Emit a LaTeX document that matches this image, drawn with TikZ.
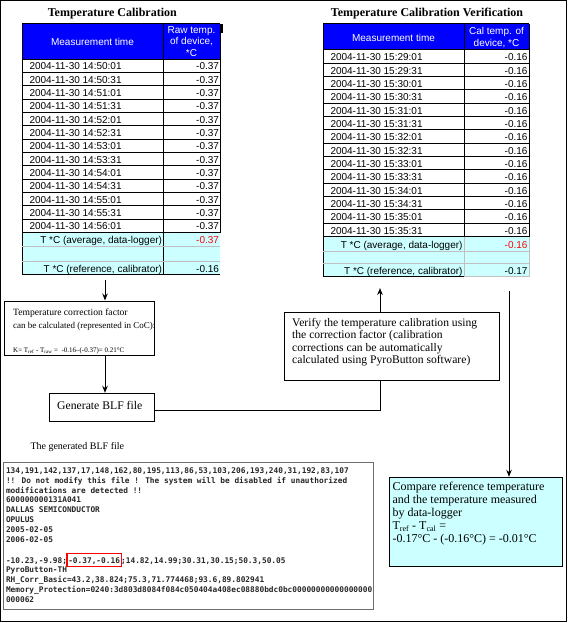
\documentclass[tikz,border=0pt]{standalone}
\usepackage{fontspec}
\setmainfont{Liberation Serif}
\newfontfamily\arialf{Liberation Sans}
\newfontfamily\monof{DejaVu Sans Mono}
\usetikzlibrary{arrows.meta}
\definecolor{hdrblue}{RGB}{0,0,255}
\definecolor{lcyan}{RGB}{204,255,255}
\definecolor{gline}{RGB}{192,192,192}
\definecolor{blfgray}{RGB}{110,110,110}
\definecolor{markred}{RGB}{255,0,0}
\begin{document}
\begin{tikzpicture}[x=1pt,y=-1pt,line width=1pt,
  tcell/.style={font=\arialf\fontsize{10}{11.7}\selectfont, inner sep=0pt},
  datecell/.style={tcell, anchor=base west},
  valcell/.style={tcell, anchor=base east},
  hdrcell/.style={tcell, text=white, align=center},
  titletext/.style={font=\bfseries\fontsize{12}{14}\selectfont, anchor=base, inner sep=0pt},
  boxnode/.style={draw, line width=1pt, inner sep=0pt},
  linetext/.style={anchor=base west, inner sep=0pt},
  flowarr/.style={-{Stealth[length=7pt,width=5.5pt]}},
  blfline/.style={font=\monof\bfseries\fontsize{7.8}{9.875}\selectfont, anchor=base west, inner sep=0pt, text=black!85}
]
\useasboundingbox (0,0) rectangle (569,623);
% outer frame
\draw (0.5,0.5) rectangle (566.7,621.5);

% ---------------- left table ----------------
\node[titletext] (ltitle) at (112.3,16.5) {Temperature Calibration};
\fill[hdrblue] (22,24) rectangle (220,59.3);
\fill[lcyan] (22,232.7) rectangle (220,274);
\fill (220.5,24) rectangle (222.7,33.5);
\foreach \i in {0,...,13} \draw (22,{59.3+13.333*\i}) -- (220,{59.3+13.333*\i});
\draw (22,24) -- (220,24);
\draw (22,24) -- (22,274) -- (220,274);
\draw (163,24) -- (163,274);
\draw (220,24) -- (220,232.7);
\draw[gline] (22,246.7) -- (220,246.7);
\draw[gline] (22,261.7) -- (220,261.7);
\node[hdrcell, anchor=base] (lh1) at (92.5,45.8) {Measurement time};
\node[hdrcell] (lh2) at (191.5,41.5) {Raw temp.\\of device,\\*C};
\foreach \t [count=\i from 0] in {14:50:01,14:50:31,14:51:01,14:51:31,14:52:01,14:52:31,14:53:01,14:53:31,14:54:01,14:54:31,14:55:01,14:55:31,14:56:01}{
  \node[datecell] (ld\i) at (29,{59.3+13.333*\i+10.7}) {2004-11-30 \t};
  \node[valcell] (lv\i) at (219.5,{59.3+13.333*\i+10.7}) {-0.37};
}
\node[valcell] (lavg) at (162.5,243.6) {T *C (average, data-logger)};
\node[valcell, text=markred] (lavgv) at (219.5,243.6) {-0.37};
\node[valcell] (lref) at (162.5,272.3) {T *C (reference, calibrator)};
\node[valcell] (lrefv) at (219.5,272.3) {-0.16};

% ---------------- right table ----------------
\node[titletext] (rtitle) at (427,16.5) {Temperature Calibration Verification};
\fill[hdrblue] (323,24) rectangle (529,50);
\fill[lcyan] (323,236.7) rectangle (529,276.7);
\foreach \i in {0,...,14} \draw (323,{50+13.333*\i}) -- (529,{50+13.333*\i});
\draw (323,24) -- (529,24);
\draw (323,24) -- (323,276.7) -- (464,276.7);
\draw (464,24) -- (464,236.7);
\draw (529,24) -- (529,236.7);
\draw[gline] (464,236.7) -- (464,276.7);
\draw[gline] (529,236.7) -- (529,276.7) -- (464,276.7);
\draw[gline] (323,251.5) -- (529,251.5);
\draw[gline] (323,263.5) -- (529,263.5);
\node[hdrcell, anchor=base] (rh1) at (393.5,41.3) {Measurement time};
\node[hdrcell] (rh2) at (496.5,37.5) {Cal temp. of\\device, *C};
\foreach \t [count=\i from 0] in {15:29:01,15:29:31,15:30:01,15:30:31,15:31:01,15:31:31,15:32:01,15:32:31,15:33:01,15:33:31,15:34:01,15:34:31,15:35:01,15:35:31}{
  \node[datecell] (rd\i) at (330,{50+13.333*\i+10.7}) {2004-11-30 \t};
  \node[valcell] (rv\i) at (528,{50+13.333*\i+10.7}) {-0.16};
}
\node[valcell] (ravg) at (463,248.5) {T *C (average, data-logger)};
\node[valcell, text=markred] (ravgv) at (528,248.5) {-0.16};
\node[valcell] (rref) at (463,274) {T *C (reference, calibrator)};
\node[valcell] (rrefv) at (528,274) {-0.17};

% ---------------- flow boxes ----------------
\node[boxnode, minimum width=150pt, minimum height=54pt] (corr) at (79,328) {};
\node[linetext, font=\fontsize{9.6}{12}\selectfont] (corr1) at (12.7,315.5) {Temperature correction factor};
\node[linetext, font=\fontsize{9}{12}\selectfont] (corr2) at (12.7,328.5) {can be calculated (represented in CoC):};
\node[linetext, font=\fontsize{7}{9}\selectfont] (corr3) at (12.7,352.5) {K= T\textsubscript{ref} - T\textsubscript{raw} =\ \ -0.16--(-0.37)= 0.21°C};

\node[boxnode, minimum width=105pt, minimum height=28pt] (gen) at (101.8,407.3) {};
\node[linetext, font=\fontsize{11.7}{14}\selectfont] (gent) at (56.7,409.3) {Generate BLF file};

\node[boxnode, minimum width=215pt, minimum height=67.7pt] (ver) at (391.5,346.2) {};
\node[linetext, font=\fontsize{11.6}{14}\selectfont] (ver1) at (291.7,326.5) {Verify the temperature calibration using};
\node[linetext, font=\fontsize{11.6}{14}\selectfont] (ver2) at (291.7,338.8) {the correction factor (calibration};
\node[linetext, font=\fontsize{11.6}{14}\selectfont] (ver3) at (291.7,351) {corrections can be automatically};
\node[linetext, font=\fontsize{11.6}{14}\selectfont] (ver4) at (291.7,363.3) {calculated using PyroButton software)};

\node[boxnode, fill=lcyan, minimum width=173.3pt, minimum height=89.4pt] (cmp) at (475.7,522) {};
\node[linetext, font=\fontsize{12}{14}\selectfont] (cmp1) at (392,490.5) {Compare reference temperature};
\node[linetext, font=\fontsize{12}{14}\selectfont] (cmp2) at (392,503.5) {and the temperature measured};
\node[linetext, font=\fontsize{12}{14}\selectfont] (cmp3) at (392,516.5) {by data-logger};
\node[linetext, font=\fontsize{12}{14}\selectfont] (cmp4) at (392,529.5) {T\textsubscript{ref} - T\textsubscript{cal} =};
\node[linetext, font=\fontsize{12}{14}\selectfont] (cmp5) at (392,542.5) {-0.17°C - (-0.16°C) = -0.01°C};

% connectors
\coordinate (lout) at (105,280);
\coordinate (vtip) at (380,288);
\coordinate (rtop) at (509,291);
\draw[flowarr] (lout) -- (lout |- corr.north);
\draw[flowarr] (lout |- corr.south) -- (lout |- gen.north);
\draw ([yshift=-3pt]gen.east) -| (vtip |- ver.south);
\draw[flowarr] (vtip |- ver.north) -- (vtip);
\draw[flowarr] (rtop) -- (rtop |- cmp.north);

% ---------------- BLF file ----------------
\node[linetext, font=\fontsize{10}{12}\selectfont] (blftitle) at (30,449) {The generated BLF file};
\draw[blfgray] (3.5,462.7) rectangle (373.3,609.3);
\node[blfline] (b0) at (5.5,473.3) {134,191,142,137,17,148,162,80,195,113,86,53,103,206,193,240,31,192,83,107};
\node[blfline] (b1) at (5.5,483.2) {!! Do not modify this file ! The system will be disabled if unauthorized};
\node[blfline] (b2) at (5.5,493.1) {modifications are detected !!};
\node[blfline] (b3) at (5.5,502.9) {600000000131A041};
\node[blfline] (b4) at (5.5,512.8) {DALLAS SEMICONDUCTOR};
\node[blfline] (b5) at (5.5,522.7) {OPULUS};
\node[blfline] (b6) at (5.5,532.6) {2005-02-05};
\node[blfline] (b7) at (5.5,542.4) {2006-02-05};
\node[blfline] (b9a) at (5.5,563.3) {-10.23,-9.98;};
\node[blfline, draw=markred, line width=1.5pt, inner xsep=1.5pt, inner ysep=2.8pt, text height=7.2pt, text depth=0.5pt] (b9b) at ([xshift=-1.5pt]b9a.base east) {-0.37,-0.16};
\node[blfline] (b9c) at ([xshift=-1.5pt]b9b.base east) {;14.82,14.99;30.31,30.15;50.3,50.05};
\node[blfline] (b10) at (5.5,572.7) {PyroButton-TH};
\node[blfline] (b11) at (5.5,582.5) {RH\_Corr\_Basic=43.2,38.824;75.3,71.774468;93.6,89.802941};
\node[blfline] (b12) at (5.5,592.4) {Memory\_Protection=0240:3d803d8084f084c050404a408ec08880bdc0bc00000000000000000};
\node[blfline] (b13) at (5.5,602.3) {000062};
\end{tikzpicture}
\end{document}
